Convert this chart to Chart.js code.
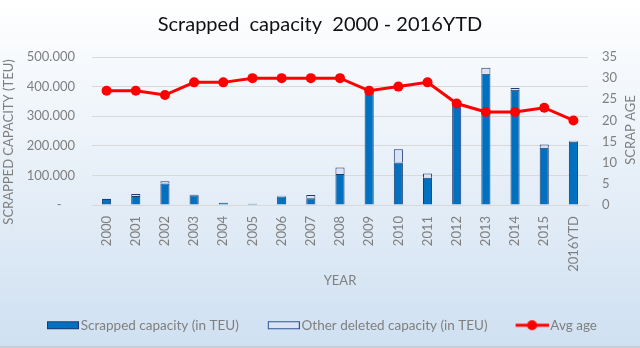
<!DOCTYPE html>
<html>
<head>
<meta charset="utf-8">
<script src="https://cdn.jsdelivr.net/npm/chart.js@4/dist/chart.umd.min.js"></script>
<style>
html,body{margin:0;padding:0;background:#fff;}
#wrap{width:640px;height:348px;position:relative;}
</style>
</head>
<body>
<div id="wrap"><canvas id="c" width="640" height="348"></canvas></div>
<script>
const categories = ['2000','2001','2002','2003','2004','2005','2006','2007','2008','2009','2010','2011','2012','2013','2014','2015','2016YTD'];
const scrappedCapacity = [20000, 30000, 73000, 33000, 8000, 4000, 29000, 23000, 105000, 390000, 144000, 92000, 350000, 443000, 389000, 193000, 214000];
const otherDeleted = [1000, 7000, 7000, 2000, 0, 0, 2000, 11000, 22000, 3000, 44000, 14000, 2000, 21000, 6000, 11000, 3000];
const avgAge = [27, 27, 26, 29, 29, 30, 30, 30, 30, 27, 28, 29, 24, 22, 22, 23, 20];
const leftTicks = [0, 100000, 200000, 300000, 400000, 500000];
const rightTicks = [0, 5, 10, 15, 20, 25, 30, 35];
const axisTitles = { left: 'SCRAPPED CAPACITY (TEU)', right: 'SCRAP AGE', bottom: 'YEAR' };

const BLUE = '#0070c0', NAVY = '#1f3a6e', LIGHT = '#dae3f3', RED = '#ff0000';
const GRAY = '#7f7f7f', GRID = '#d9d9d9';
const FONT = 'Lato';

function mkImg(kind){
  const c = document.createElement('canvas');
  c.width = 52; c.height = 12;
  const g = c.getContext('2d');
  if (kind === 'line') {
    g.strokeStyle = RED; g.lineWidth = 3;
    g.beginPath(); g.moveTo(19,6); g.lineTo(52,6); g.stroke();
    g.fillStyle = RED; g.beginPath(); g.arc(35.5,6,5,0,Math.PI*2); g.fill();
  } else {
    g.fillStyle = kind === 'a' ? BLUE : LIGHT;
    g.fillRect(20.5,2.5,31,7);
    g.strokeStyle = kind === 'a' ? NAVY : '#2f5597'; g.lineWidth = 1;
    g.strokeRect(20.5,2.5,31,7);
  }
  return c;
}
const legendImgs = [mkImg('a'), mkImg('b'), mkImg('line')];

function fmt(v){
  if (v === 0) return '-    ';
  return String(v).replace(/\B(?=(\d{3})+(?!\d))/g, '.');
}

const bgPlugin = {
  id: 'bg',
  beforeDraw(chart){
    const ctx = chart.ctx;
    const g = ctx.createLinearGradient(0,0,0,348);
    g.addColorStop(0,'#ffffff');
    g.addColorStop(1,'#cfe0f1');
    ctx.save();
    ctx.fillStyle = g;
    ctx.fillRect(0,0,chart.width,chart.height);
    ctx.fillStyle = '#c8cfd8';
    ctx.fillRect(0,chart.height-2,chart.width,2);
    ctx.restore();
  }
};
const legendShift = {
  id: 'legendShift',
  afterLayout(chart){ if (chart.legend) { chart.legend.left += 18; } }
};
const axisTitlePlugin = {
  id: 'axisTitles',
  afterDraw(chart){
    const ctx = chart.ctx, a = chart.chartArea;
    ctx.save();
    ctx.fillStyle = GRAY;
    ctx.font = '13px ' + FONT;
    ctx.textAlign = 'center';
    ctx.textBaseline = 'middle';
    ctx.fillText(axisTitles.bottom, (a.left + a.right) / 2, 281);
    ctx.save(); ctx.translate(9, 142); ctx.rotate(-Math.PI/2); ctx.fillText(axisTitles.left, 0, 0); ctx.restore();
    ctx.save(); ctx.translate(631, 130); ctx.rotate(-Math.PI/2); ctx.fillText(axisTitles.right, 0, 0); ctx.restore();
    ctx.restore();
  }
};

new Chart(document.getElementById('c'), {
  type: 'bar',
  data: {
    labels: categories,
    datasets: [
      { label: 'Scrapped capacity (in TEU)', data: scrappedCapacity, backgroundColor: BLUE, borderColor: NAVY, borderWidth: 1, stack: 's', yAxisID: 'y', order: 1, categoryPercentage: 0.8, barPercentage: 0.39 },
      { label: 'Other deleted capacity (in TEU)', data: otherDeleted, backgroundColor: LIGHT, borderColor: NAVY, borderWidth: 1, stack: 's', yAxisID: 'y', order: 1, categoryPercentage: 0.8, barPercentage: 0.39 },
      { type: 'line', label: 'Avg age', data: avgAge, borderColor: RED, backgroundColor: RED, borderWidth: 3, pointRadius: 5, pointBackgroundColor: RED, pointBorderColor: RED, pointBorderWidth: 0, yAxisID: 'y1', order: 0, tension: 0 }
    ]
  },
  options: {
    responsive: false,
    animation: false,
    devicePixelRatio: 1,
    layout: { padding: { top: 0, left: 0, right: 0, bottom: 6 } },
    plugins: {
      tooltip: { enabled: false },
      title: { display: true, text: 'Scrapped  capacity  2000 - 2016YTD', color: '#111', font: { family: FONT, size: 20, weight: 'normal' }, padding: { top: 13, bottom: 20 } },
      legend: {
        position: 'bottom', align: 'start',
        labels: {
          usePointStyle: true, pointStyleWidth: 42, padding: 14,
          color: GRAY, font: { family: FONT, size: 13.5 },
          generateLabels(chart){
            const items = Chart.defaults.plugins.legend.labels.generateLabels(chart);
            items.forEach(it => { it.pointStyle = legendImgs[it.datasetIndex]; it.fontColor = GRAY; });
            return items.sort((a,b) => a.datasetIndex - b.datasetIndex);
          }
        }
      }
    },
    scales: {
      x: {
        stacked: true,
        grid: { display: false, drawTicks: false },
        border: { display: true, color: GRID, width: 1 },
        ticks: { minRotation: 90, maxRotation: 90, autoSkip: false, padding: 11, color: GRAY, font: { family: FONT, size: 13 } },
        afterFit(s){ s.height = 99.5; }
      },
      y: {
        position: 'left', stacked: true, min: 0, max: 500000,
        afterBuildTicks(s){ s.ticks = leftTicks.map(v => ({ value: v })); },
        grid: { color: GRID, drawTicks: false },
        border: { display: false },
        ticks: { padding: 17, color: GRAY, font: { family: FONT, size: 13 }, callback: v => fmt(v) },
        afterFit(s){ s.width = 92; }
      },
      y1: {
        position: 'right', min: 0, max: 35,
        afterBuildTicks(s){ s.ticks = rightTicks.map(v => ({ value: v })); },
        grid: { drawOnChartArea: false, drawTicks: false },
        border: { display: false },
        ticks: { padding: 14, color: GRAY, font: { family: FONT, size: 13 } },
        afterFit(s){ s.width = 52; }
      }
    }
  },
  plugins: [bgPlugin, legendShift, axisTitlePlugin]
});
</script>
</body>
</html>
